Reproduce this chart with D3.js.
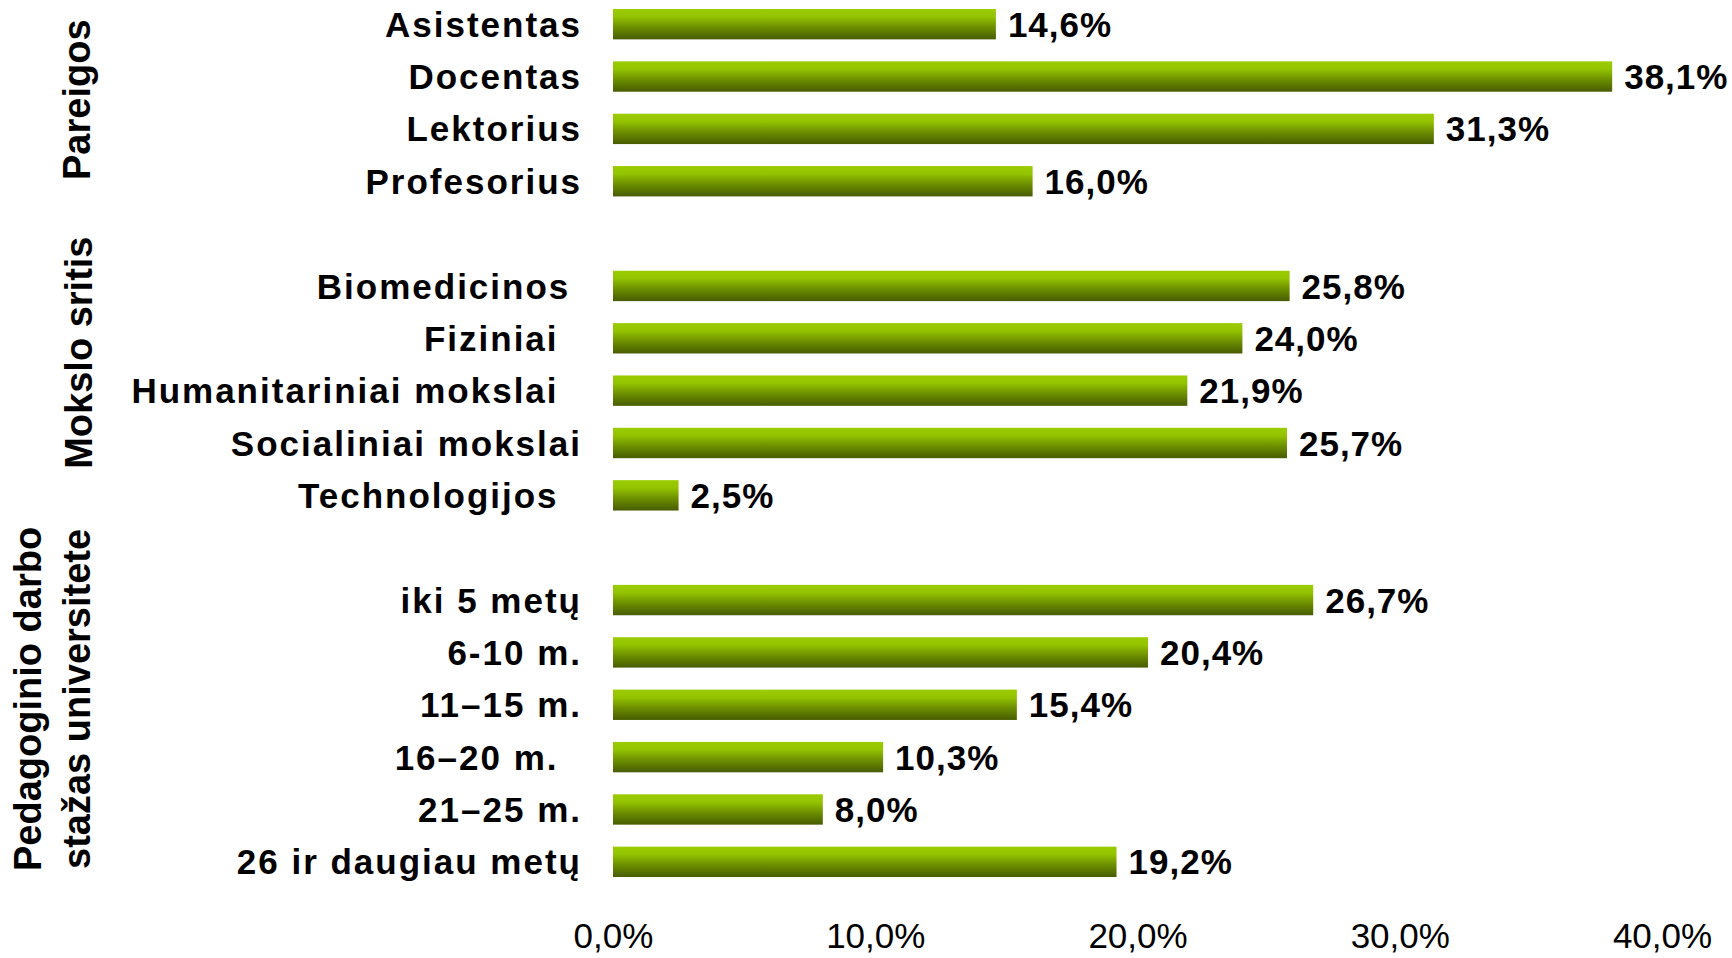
<!DOCTYPE html>
<html>
<head>
<meta charset="utf-8">
<script src="https://cdn.jsdelivr.net/npm/d3@7"></script>
<style>
  html, body { margin: 0; padding: 0; background: #fff; }
  svg { display: block; font-family: "Liberation Sans", Arial, sans-serif; }
</style>
</head>
<body>
<div id="chart"></div>
<script>
// Data (percent)
var pareigosCats = ["Asistentas", "Docentas", "Lektorius", "Profesorius"];
var pareigosVals = [14.6, 38.1, 31.3, 16.0];

var sritisCats = ["Biomedicinos ", "Fiziniai  ", "Humanitariniai mokslai  ", "Socialiniai mokslai", "Technologijos  "];
var sritisVals = [25.8, 24.0, 21.9, 25.7, 2.5];

var stazasCats = ["iki 5 metų", "6-10 m.", "11–15 m.", "16–20 m.  ", "21–25 m.", "26 ir daugiau metų"];
var stazasVals = [26.7, 20.4, 15.4, 10.3, 8.0, 19.2];

var groupNames = [["Pareigos"], ["Mokslo sritis"], ["Pedagoginio darbo", "stažas universitete"]];
var tickValues = [0, 10, 20, 30, 40];

// Sizes
var width = 1732, height = 958;

// Build rows, with an empty slot between the groups
var groups = [
  {cats: pareigosCats, vals: pareigosVals},
  {cats: sritisCats, vals: sritisVals},
  {cats: stazasCats, vals: stazasVals}
];
var rows = [];
groups.forEach(function(g, gi) {
  if (gi > 0) rows.push({key: "gap" + gi, gap: true});
  g.cats.forEach(function(c, i) {
    rows.push({key: "g" + gi + "_" + i, label: c, value: g.vals[i], group: gi});
  });
});

var x = d3.scaleLinear().domain([0, 40]).range([613, 1662]);
var y = d3.scaleBand()
  .domain(rows.map(function(d) { return d.key; }))
  .range([-2, 888])
  .paddingInner(0.42)
  .paddingOuter(0.21);

var locale = d3.formatLocale({decimal: ",", thousands: " ", grouping: [3], currency: ["", ""]});
var fmt = locale.format(".1f");

var svg = d3.select("#chart").append("svg")
  .attr("width", width)
  .attr("height", height);

// Bar gradient (light green on top, dark olive at the bottom)
var grad = svg.append("defs").append("linearGradient")
  .attr("id", "barGrad")
  .attr("x1", 0).attr("y1", 0).attr("x2", 0).attr("y2", 1);
grad.append("stop").attr("offset", "0%").attr("stop-color", "#9bcc00");
grad.append("stop").attr("offset", "25%").attr("stop-color", "#94c400");
grad.append("stop").attr("offset", "60%").attr("stop-color", "#6d8f00");
grad.append("stop").attr("offset", "100%").attr("stop-color", "#475c00");

var data = rows.filter(function(d) { return !d.gap; });

// Bars
svg.append("g").selectAll("rect")
  .data(data)
  .join("rect")
  .attr("x", x(0))
  .attr("y", function(d) { return y(d.key); })
  .attr("width", function(d) { return x(d.value) - x(0); })
  .attr("height", y.bandwidth())
  .attr("fill", "url(#barGrad)");

// Value labels
svg.append("g").selectAll("text")
  .data(data)
  .join("text")
  .attr("x", function(d) { return x(d.value) + 12; })
  .attr("y", function(d) { return y(d.key) + y.bandwidth() / 2; })
  .attr("dy", "0.36em")
  .style("font-size", "35px")
  .style("font-weight", "bold")
  .style("letter-spacing", "1px")
  .text(function(d) { return fmt(d.value) + "%"; });

// Category labels
svg.append("g").selectAll("text")
  .data(data)
  .join("text")
  .attr("x", 582)
  .attr("y", function(d) { return y(d.key) + y.bandwidth() / 2; })
  .attr("dy", "0.36em")
  .attr("text-anchor", "end")
  .style("white-space", "pre")
  .style("font-size", "35px")
  .style("font-weight", "bold")
  .style("letter-spacing", "2px")
  .text(function(d) { return d.label; });

// Group labels (rotated)
var groupPos = [{x: 90, dy: -3}, {x: 92, dy: -38}, {x: 41, dy: -32}];
groupNames.forEach(function(lines, gi) {
  var keys = data.filter(function(d) { return d.group === gi; }).map(function(d) { return d.key; });
  var mid = (y(keys[0]) + y(keys[keys.length - 1]) + y.bandwidth()) / 2 + groupPos[gi].dy;
  lines.forEach(function(line, li) {
    var bx = groupPos[gi].x + li * 49;
    svg.append("text")
      .attr("transform", "translate(" + bx + "," + mid + ") rotate(-90)")
      .attr("text-anchor", "middle")
      .style("font-size", "38px")
      .style("font-weight", "bold")
      .text(line);
  });
});

// X axis (labels only)
var xAxis = svg.append("g")
  .attr("transform", "translate(0,913)")
  .call(d3.axisBottom(x)
    .tickValues(tickValues)
    .tickSize(0)
    .tickPadding(10)
    .tickFormat(function(d) { return fmt(d) + "%"; }));
xAxis.select(".domain").remove();
xAxis.selectAll("text")
  .attr("font-family", null)
  .attr("font-size", null)
  .style("font-size", "35px")
  .style("fill", "#000");
</script>
</body>
</html>
